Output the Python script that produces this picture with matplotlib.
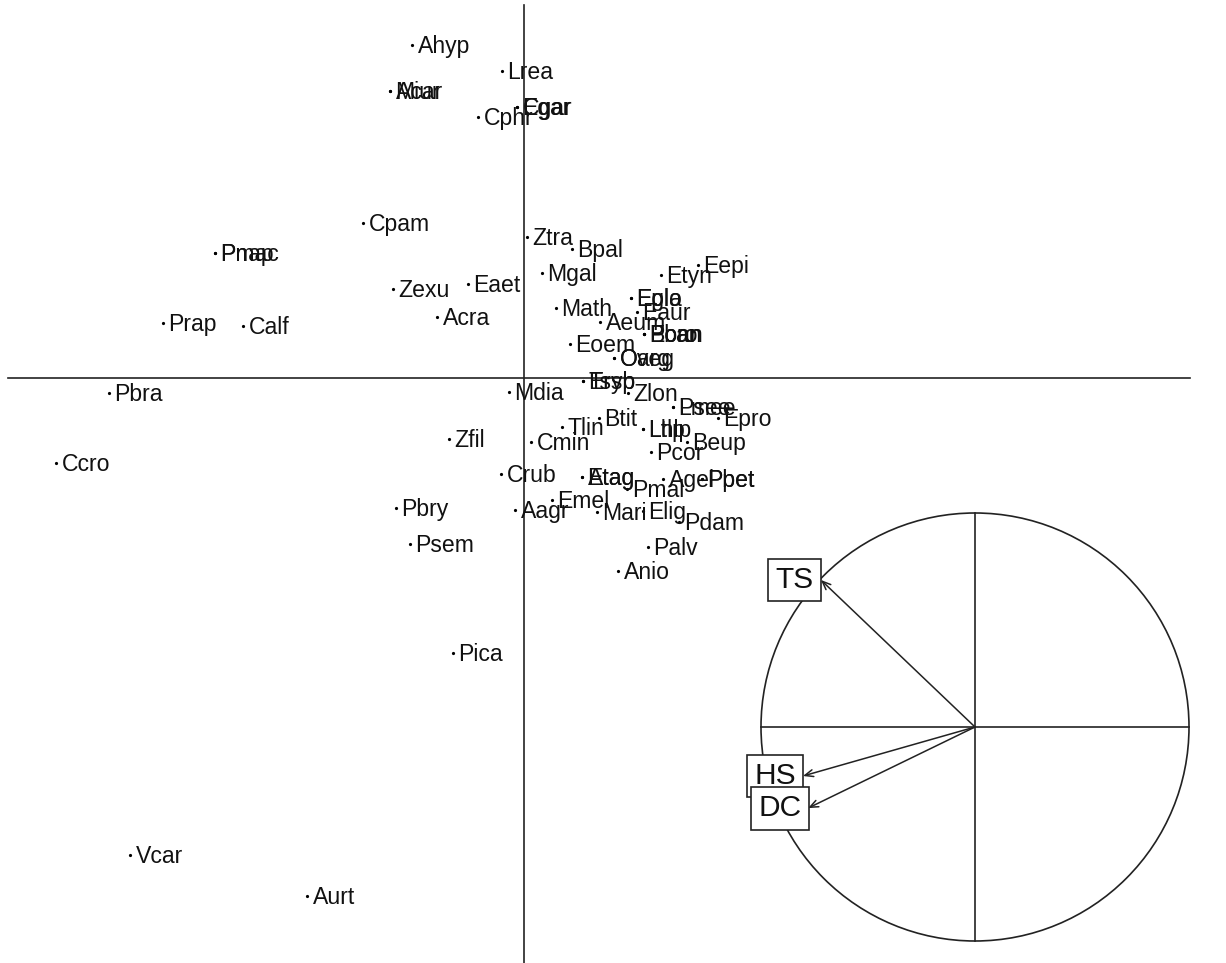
import matplotlib
matplotlib.use("Agg")
import matplotlib.pyplot as plt
from matplotlib.patches import Circle
import numpy as np

plt.rcParams['font.family'] = ['Liberation Sans', 'DejaVu Sans']

# Species scores (row coordinates)
labels = ["Ahyp", "Lrea", "Miur", "Acar", "Cgar", "Egar", "Cphr", "Cpam", "Pnap", "Pmac",
          "Ztra", "Bpal", "Eepi", "Etyn", "Mgal", "Eaet", "Zexu", "Epla", "Eglo", "Eaur",
          "Math", "Acra", "Prap", "Calf", "Aeum", "Ebro", "Bcan", "Poan", "Eoem", "Oarg",
          "Oveg", "Ersp", "Tsyb", "Mdia", "Zlon", "Pbra", "Lmee", "Psee", "Epro", "Btit",
          "Tlin", "Lhlp", "Ltlp", "Beup", "Zfil", "Cmin", "Pcor", "Ccro", "Crub", "Atag",
          "Etag", "Agel", "Ppet", "Pbet", "Pmal", "Emel", "Pbry", "Aagr", "Mari", "Elig",
          "Pdam", "Psem", "Palv", "Anio", "Pica", "Vcar", "Aurt"]
xs = [-1.12, -0.22, -1.34, -1.34, -0.07, -0.07, -0.46, -1.61, -3.09, -3.09,
      0.03, 0.48, 1.74, 1.37, 0.18, -0.56, -1.31, 1.07, 1.07, 1.13,
      0.32, -0.87, -3.61, -2.81, 0.76, 1.20, 1.20, 1.20, 0.46, 0.90,
      0.90, 0.59, 0.59, -0.15, 1.04, -4.15, 1.49, 1.49, 1.94, 0.75,
      0.38, 1.19, 1.19, 1.63, -0.75, 0.07, 1.27, -4.68, -0.23, 0.58,
      0.58, 1.39, 1.78, 1.78, 1.03, 0.28, -1.28, -0.09, 0.73, 1.19,
      1.55, -1.14, 1.24, 0.94, -0.71, -3.94, -2.17]
ys = [3.33, 3.07, 2.87, 2.87, 2.71, 2.71, 2.61, 1.55, 1.25, 1.25,
      1.41, 1.29, 1.13, 1.03, 1.05, 0.94, 0.89, 0.80, 0.80, 0.66,
      0.70, 0.61, 0.55, 0.52, 0.56, 0.44, 0.44, 0.44, 0.34, 0.20,
      0.20, -0.03, -0.03, -0.14, -0.15, -0.15, -0.29, -0.29, -0.40, -0.40,
      -0.49, -0.51, -0.51, -0.64, -0.61, -0.64, -0.74, -0.85, -0.96, -0.99,
      -0.99, -1.01, -1.01, -1.01, -1.11, -1.22, -1.30, -1.32, -1.34, -1.33,
      -1.44, -1.66, -1.69, -1.93, -2.75, -4.77, -5.18]

# Variable correlations (correlation circle)
var_names = ["TS", "HS", "DC"]
var_x = [-0.720, -0.804, -0.780]
var_y = [0.687, -0.229, -0.379]

fig = plt.figure(figsize=(12.26, 9.63), dpi=100)
ax = fig.add_axes([0, 0, 1, 1])
ax.set_xlim(-5.24, 7.02)
ax.set_ylim(-5.85, 3.78)
ax.axis('off')

lc = '#222222'
ax.plot([-5.16, 6.66], [0, 0], color=lc, lw=1.2)
ax.plot([0, 0], [3.73, -5.85], color=lc, lw=1.2)

ax.plot(xs, ys, 'o', color='black', ms=2.3, mew=0)
for lab, x, y in zip(labels, xs, ys):
    ax.annotate(lab, (x, y), xytext=(4, -5.8), textcoords='offset points',
                ha='left', va='baseline', fontsize=16.6, color='#111111')

# Correlation circle
cx, cy, r = 4.51, -3.49, 2.14
ax.add_patch(Circle((cx, cy), r, fill=False, ec=lc, lw=1.2))
ax.plot([cx - r, cx + r], [cy, cy], color=lc, lw=1.2)
ax.plot([cx, cx], [cy - r, cy + r], color=lc, lw=1.2)
for name, vx, vy in zip(var_names, var_x, var_y):
    tx, ty = cx + r * vx, cy + r * vy
    ax.annotate('', xy=(tx, ty), xytext=(cx, cy),
                arrowprops=dict(arrowstyle='->,head_length=0.6,head_width=0.25',
                                color=lc, lw=1.1, shrinkA=0, shrinkB=0))
    ax.annotate(name, (tx, ty), xytext=(-5, 0), textcoords='offset points',
                ha='right', va='center', fontsize=21.5, color='#111111',
                bbox=dict(boxstyle='square,pad=0.25', fc='white', ec=lc, lw=1.2))

fig.savefig('out.png', dpi=100)
